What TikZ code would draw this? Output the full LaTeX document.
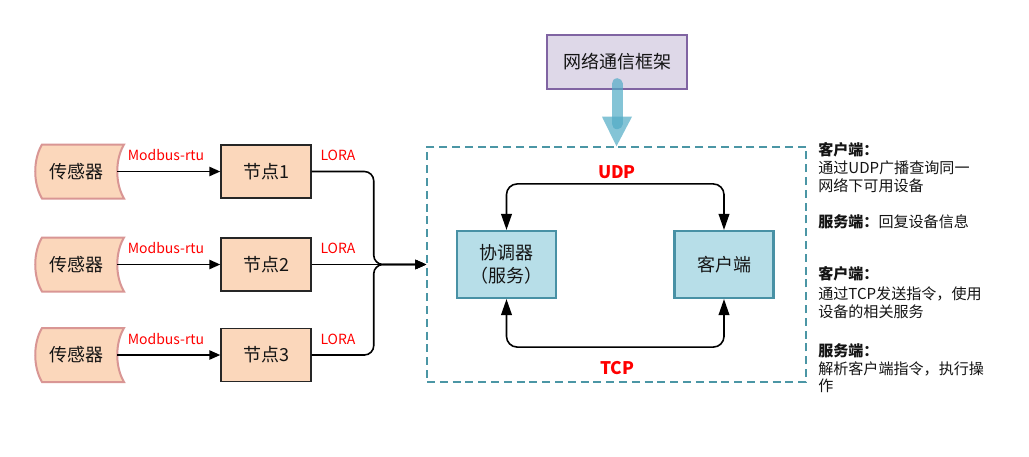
\documentclass[tikz,border=0pt]{standalone}
\usepackage{fontspec}
\setmainfont{Noto Sans CJK SC}
\usetikzlibrary{arrows.meta,calc}
\definecolor{peach}{RGB}{251,215,187}
\definecolor{peachborder}{RGB}{217,150,148}
\definecolor{lav}{RGB}{222,216,232}
\definecolor{lavborder}{RGB}{128,100,162}
\definecolor{lblue}{RGB}{183,222,232}
\definecolor{tealb}{RGB}{72,145,165}
\definecolor{framecol}{RGB}{75,150,165}
\definecolor{bigarrow}{RGB}{81,171,198}
\definecolor{txt}{RGB}{20,20,20}
\begin{document}
\begin{tikzpicture}[x=0.75pt,y=-0.75pt,
  every node/.style={text=txt},
  sensorshape/.style={fill=peach,draw=peachborder,line width=1.5pt},
  sensor/.style={minimum width=60.75pt,minimum height=40.5pt,inner sep=0pt,font=\fontsize{13.5}{16}\selectfont},
  nodebox/.style={draw=black!85,fill=peach,line width=1.1pt,minimum width=67.5pt,minimum height=39.75pt,inner sep=0pt,font=\fontsize{13.5}{16}\selectfont},
  netbox/.style={draw=lavborder,fill=lav,line width=1.1pt,minimum width=105pt,minimum height=40.5pt,inner sep=0pt,font=\fontsize{13.5}{16}\selectfont},
  innerbox/.style={draw=tealb,fill=lblue,line width=1.6pt,minimum width=74.25pt,minimum height=50.25pt,inner sep=0pt,align=center,font=\fontsize{13.5}{17}\selectfont},
  framebox/.style={draw=framecol,line width=1.1pt,dash pattern=on 6pt off 3.6pt,minimum width=284.25pt,minimum height=176.25pt,inner sep=0pt},
  lbl/.style={text=red,inner sep=0pt,font=\fontsize{10.5}{12}\selectfont},
  proto/.style={text=red,inner sep=0pt,font=\fontsize{13}{15}\selectfont\bfseries},
  side/.style={anchor=west,inner sep=0pt,font=\fontsize{11.3}{13}\selectfont},
  conn/.style={line width=1.2pt,-{Triangle[length=8.25pt,width=7pt]}},
  dconn/.style={line width=1.2pt,{Triangle[length=12pt,width=8pt]}-{Triangle[length=12pt,width=8pt]},rounded corners=8pt}
]
\useasboundingbox[fill=white] (0,0) rectangle (1029,457);

% framework box and big arrow
\node[netbox] (net) at (617,62) {网络通信框架};
\node[framebox] (frame) at (616.5,264.5) {};
\draw[bigarrow,opacity=0.7,line width=8.25pt,line cap=round] ($(net.south)+(0,-6)$) -- ($(net.south)+(0,34)$);
\fill[bigarrow,opacity=0.7] ($(net.south)+(-15,27)$) -- ($(net.south)+(15,27)$) -- (frame.north) -- cycle;

% left chain
\foreach \i/\cy in {1/171.5,2/264.5,3/355}{
  \draw[sensorshape] (42,\cy-27) -- (124,\cy-27) .. controls (115,\cy-12) and (115,\cy+12) .. (124,\cy+27) -- (42,\cy+27) .. controls (33,\cy+12) and (33,\cy-12) .. (42,\cy-27) -- cycle;
  \node[sensor] (s\i) at (76.5,\cy) {传感器};
  \node[nodebox] (n\i) at (266,\cy) {节点\i};
  \draw[conn] (s\i.east) -- (n\i.west);
  \node[lbl] (m\i) at (166,\cy-16) {Modbus-rtu};
  \node[lbl] (l\i) at (338,\cy-16) {LORA};
}
\draw[conn,rounded corners=7pt] (n1.east) -- ++(62,0) |- (frame.west);
\draw[conn] (n2.east) -- (frame.west);
\draw[conn,rounded corners=7pt] (n3.east) -- ++(62,0) |- (frame.west);

% inner boxes
\node[innerbox] (c) at (506.5,264.5) {协调器\\（服务）};
\node[innerbox] (k) at (724,264.5) {客户端};
\draw[dconn] (c.north) -- ++(0,-46) -| (k.north);
\draw[dconn] (c.south) -- ++(0,48) -| (k.south);
\node[proto] (udp) at (617,172) {UDP};
\node[proto] (tcp) at (617,368) {TCP};

% side notes
\node[side] (t1) at (818,150) {\bfseries 客户端：};
\node[side] (t2) at (818,168) {通过UDP广播查询同一};
\node[side] (t3) at (818,186) {网络下可用设备};
\node[side] (t4) at (818,222) {{\bfseries 服务端：}回复设备信息};
\node[side] (t5) at (818,274) {\bfseries 客户端：};
\node[side] (t6) at (818,294) {通过TCP发送指令，使用};
\node[side] (t7) at (818,312) {设备的相关服务};
\node[side] (t8) at (818,351) {\bfseries 服务端：};
\node[side] (t9) at (818,369) {解析客户端指令，执行操};
\node[side] (t10) at (818,386) {作};
\end{tikzpicture}
\end{document}
